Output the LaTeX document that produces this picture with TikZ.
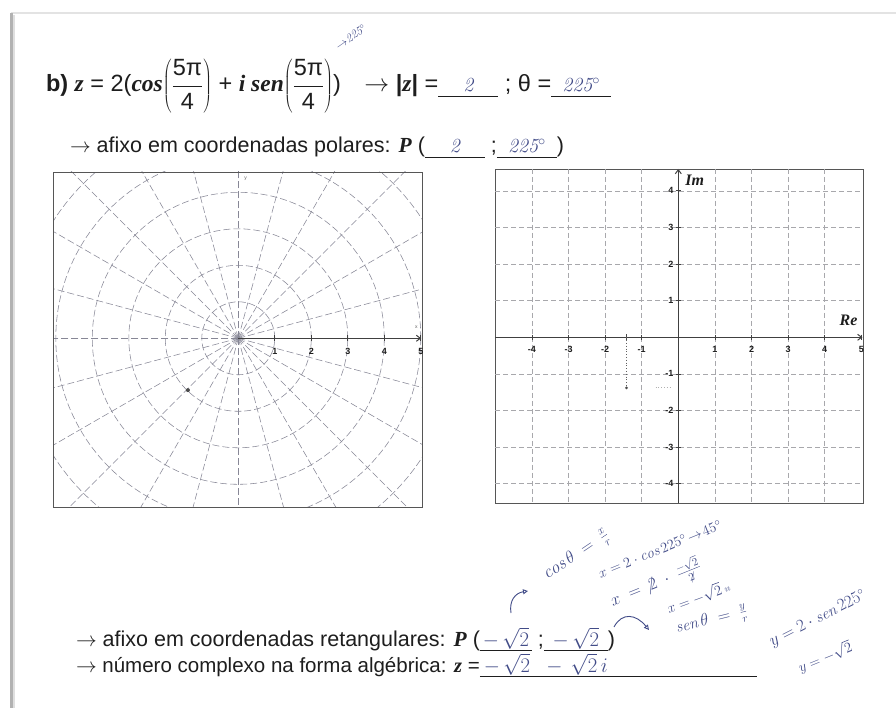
\documentclass[tikz,border=0pt]{standalone}
\usepackage{fontspec}
\setsansfont{Liberation Sans}
\newfontfamily\tnr{Liberation Serif}
\usetikzlibrary{arrows.meta}
\definecolor{pen}{RGB}{66,76,136}
\definecolor{ink}{RGB}{30,30,30}
\definecolor{gridc}{RGB}{135,135,150}
\definecolor{rgridc}{RGB}{168,168,172}
\newcommand{\bi}[1]{{\tnr\bfseries\itshape #1}}
\newcommand{\txtfont}{\sffamily\fontsize{21.5}{26}\selectfont}
\newcommand{\bigtxtfont}{\sffamily\fontsize{23.5}{28}\selectfont}
\newcommand{\handfont}{\rmfamily\itshape\fontsize{20}{22}\selectfont}
\newcommand{\notefont}[1]{\rmfamily\itshape\fontsize{#1}{#1}\selectfont}
\tikzset{
 txt/.style={inner sep=0pt, outer sep=0pt, text=ink, font=\txtfont, anchor=base west},
 blank/.style={txt, text=pen},
 uline/.style={ink, line width=0.9pt},
 note/.style={inner sep=0pt, text=pen, font=\notefont{#1}},
 penline/.style={pen, line width=0.9pt},
 pgrid/.style={gridc, line width=0.55pt, dash pattern=on 7pt off 3pt},
 rgrid/.style={rgridc, line width=0.6pt, dash pattern=on 5pt off 3pt},
 framebox/.style={draw=ink!75, line width=0.9pt},
 axisline/.style={ink!85, line width=1pt},
 ticklab/.style={inner sep=0pt, text=ink, font=\sffamily\bfseries\fontsize{9}{10}\selectfont},
 tinylab/.style={inner sep=0pt, text=ink!70, font=\sffamily\fontsize{5}{5}\selectfont},
 dotp/.style={circle, fill=ink!80, inner sep=0pt, minimum size=4pt},
 axlab/.style={inner sep=0pt, text=ink, font=\tnr\bfseries\itshape\fontsize{16}{17}\selectfont},
}
\begin{document}
\begin{tikzpicture}[x=1pt,y=-1pt]
\useasboundingbox (0,0) rectangle (896,708);
\fill[white] (0,0) rectangle (896,708);
% page edges
\draw[line width=2pt, gray!22] (11,13) -- (896,13);
\draw[line width=3pt, gray!60] (11,13) -- (11,708);
\draw[line width=1.2pt, gray!25] (14,15) -- (14,708);

% ---------- line 1
\node[txt, font=\bigtxtfont] (l1a) at (46,92) {\textbf{b)} \bi{z} = 2(\bi{cos}$\displaystyle\left(\frac{\hbox{5π}}{\hbox{4}}\right)$ + \bi{i sen}$\displaystyle\left(\frac{\hbox{5π}}{\hbox{4}}\right)$)\quad$\rightarrow$ \textbf{|}\bi{z}\textbf{|} =\ };
\node[blank] (bz) at (l1a.base east) {\makebox[60pt]{\handfont 2}};
\node[txt, font=\bigtxtfont] (l1b) at (bz.base east) {\ ;\ θ =\ };
\node[blank] (bt) at (l1b.base east) {\makebox[60pt]{\handfont 225$^{\circ}$}};
\draw[uline] ([yshift=-4pt]bz.base west) -- ([yshift=-4pt]bz.base east);
\draw[uline] ([yshift=-4pt]bt.base west) -- ([yshift=-4pt]bt.base east);
\node[note=12, rotate=35] (n0) at (351,37) {$\rightarrow$225$^{\circ}$};

% ---------- line 2
\node[txt] (l2a) at (70,153) {$\rightarrow$ afixo em coordenadas polares: \bi{P} (};
\node[blank] (pp1) at (l2a.base east) {\makebox[60pt]{\handfont 2}};
\node[txt] (l2b) at (pp1.base east) {\ ;\ };
\node[blank] (pp2) at (l2b.base east) {\makebox[60pt]{\handfont 225$^{\circ}$}};
\node[txt] (l2c) at (pp2.base east) {)};
\draw[uline] ([yshift=-4pt]pp1.base west) -- ([yshift=-4pt]pp1.base east);
\draw[uline] ([yshift=-4pt]pp2.base west) -- ([yshift=-4pt]pp2.base east);

% ---------- polar plot
\begin{scope}
\clip (53,172) rectangle (422,507);
\begin{scope}[shift={(238.3,338.3)}, x=36.5pt, y=36.5pt]
\foreach \r in {1,...,7} \draw[pgrid] (0,0) circle[radius=\r];
\foreach \a in {15,30,...,345} \draw[pgrid] (0,0) -- (\a:8);
\end{scope}
\end{scope}
\draw[framebox] (53,172) rectangle (422,507);
\begin{scope}[shift={(238.3,338.3)}, x=36.5pt, y=36.5pt]
\coordinate (O1) at (0,0);
\coordinate (X1) at (5.01,0);
\draw[axisline, -{Straight Barb[length=4pt,width=6pt]}] (O1) -- (X1);
\foreach \i in {1,...,5} {
  \draw[axisline, line width=0.8pt] (\i,0.08) -- (\i,-0.08);
  \node[ticklab] (pl\i) at (\i,-0.36) {\i};
}
\node[tinylab] (px) at (4.88,0.3) {x};
\node[tinylab] (py) at (0.2,4.36) {y};
\node[dotp] (P1) at (-1.38,-1.42) {};
\end{scope}

% ---------- rectangular plot
\draw[framebox] (495,169) rectangle (863,503);
\begin{scope}[shift={(678.3,337.3)}, x=36.6pt, y=36.6pt]
\foreach \i in {-4,...,4} {
  \draw[rgrid] (\i,4.6) -- (\i,-4.53);
  \draw[rgrid] (-5,\i) -- (5.04,\i);
}
\coordinate (O2) at (0,0);
\coordinate (XL) at (-5,0);
\coordinate (XR) at (5.03,0);
\coordinate (YB) at (0,-4.53);
\coordinate (YT) at (0,4.6);
\draw[axisline, -{Straight Barb[length=4pt,width=6pt]}] (XL) -- (XR);
\draw[axisline, -{Straight Barb[length=4pt,width=6pt]}] (YB) -- (YT);
\foreach \i in {-4,-3,-2,-1,1,2,3,4,5} {
  \draw[axisline, line width=0.8pt] (\i,0.07) -- (\i,-0.07);
  \node[ticklab] (rx\i) at (\i,-0.34) {\i};
}
\foreach \j in {-4,-3,-2,-1,1,2,3,4} {
  \draw[axisline, line width=0.8pt] (-0.07,\j) -- (0.07,\j);
  \node[ticklab, anchor=east] (ry\j) at (-0.13,\j) {\j};
}
\node[axlab] (re) at (4.65,0.45) {Re};
\node[axlab] (im) at (0.45,4.3) {Im};
\coordinate (Qx) at (-1.414,0);
\node[dotp, minimum size=3pt] (Q) at (-1.414,-1.38) {};
\draw[ink!80, line width=0.8pt] (-1.414,0.09) -- (-1.414,-0.09);
\draw[ink!70, line width=0.8pt, dotted] (Qx) -- (Q);
\coordinate (Qa) at (-0.62,-1.36);
\coordinate (Qb) at (-0.18,-1.36);
\draw[ink!35, line width=0.8pt, dotted] (Qa) -- (Qb);
\end{scope}

% ---------- line 4
\node[txt] (l4a) at (76,646) {$\rightarrow$ afixo em coordenadas retangulares: \bi{P} (};
\node[blank] (rp1) at (l4a.base east) {\makebox[52pt]{\handfont $-\,\sqrt{2}$}};
\node[txt] (l4b) at (rp1.base east) {\ ;\ };
\node[blank] (rp2) at (l4b.base east) {\makebox[64pt]{\handfont $-\,\sqrt{2}$}};
\node[txt] (l4c) at (rp2.base east) {)};
\draw[uline] ([yshift=-4pt]rp1.base west) -- ([yshift=-4pt]rp1.base east);
\draw[uline] ([yshift=-4pt]rp2.base west) -- ([yshift=-4pt]rp2.base east);

% ---------- line 5
\node[txt, font=\sffamily\fontsize{20.5}{24}\selectfont] (l5a) at (76,672) {$\rightarrow$ número complexo na forma algébrica: \bi{z} =\ };
\node[blank] (zb) at (l5a.base east) {\handfont\hspace{4pt}$-\,\sqrt{2}\;\;-\,\sqrt{2}\,i$};
\coordinate (zend) at (757,676);
\draw[uline] ([yshift=-4pt]zb.base west) -- (zend);

% ---------- handwritten notes
\coordinate (a1s) at (511,613);
\coordinate (a1e) at (528,591);
\draw[penline, -{Triangle[open,length=5pt,width=5pt]}] (a1s) .. controls (509,601) and (515,593) .. (a1e);
\node[note=18, rotate=34] (n1) at (577,556) {$\mathit{cos}\,\theta\; = \;\frac{x}{r}$};
\node[note=15, rotate=22] (n2) at (660,549) {$x = 2\cdot\mathit{cos}\,225^{\circ}\!\rightarrow\!45^{\circ}$};
\node[note=16, rotate=22] (n3) at (656,584) {$x \;=\; \not2\;\cdot\;\frac{-\sqrt{2}}{\not2}$};
\node[note=14, rotate=20] (n4) at (698,597) {$x = -\sqrt{2}$\,{\fontsize{9}{9}\selectfont ıı}};
\node[note=16, rotate=14] (n5) at (712,621) {$\mathit{sen}\,\theta\; = \;\frac{y}{r}$};
\coordinate (a2s) at (614,627);
\coordinate (a2e) at (649,630);
\draw[penline, -{Triangle[open,length=5pt,width=5pt]}] (a2s) .. controls (622,612) and (636,614) .. (a2e);
\node[note=16, rotate=27] (n6) at (818,619) {$y = 2\cdot\mathit{sen}\,225^{\circ}$};
\node[note=14, rotate=22] (n7) at (825,657) {$y = -\sqrt{2}$};
\end{tikzpicture}
\end{document}
